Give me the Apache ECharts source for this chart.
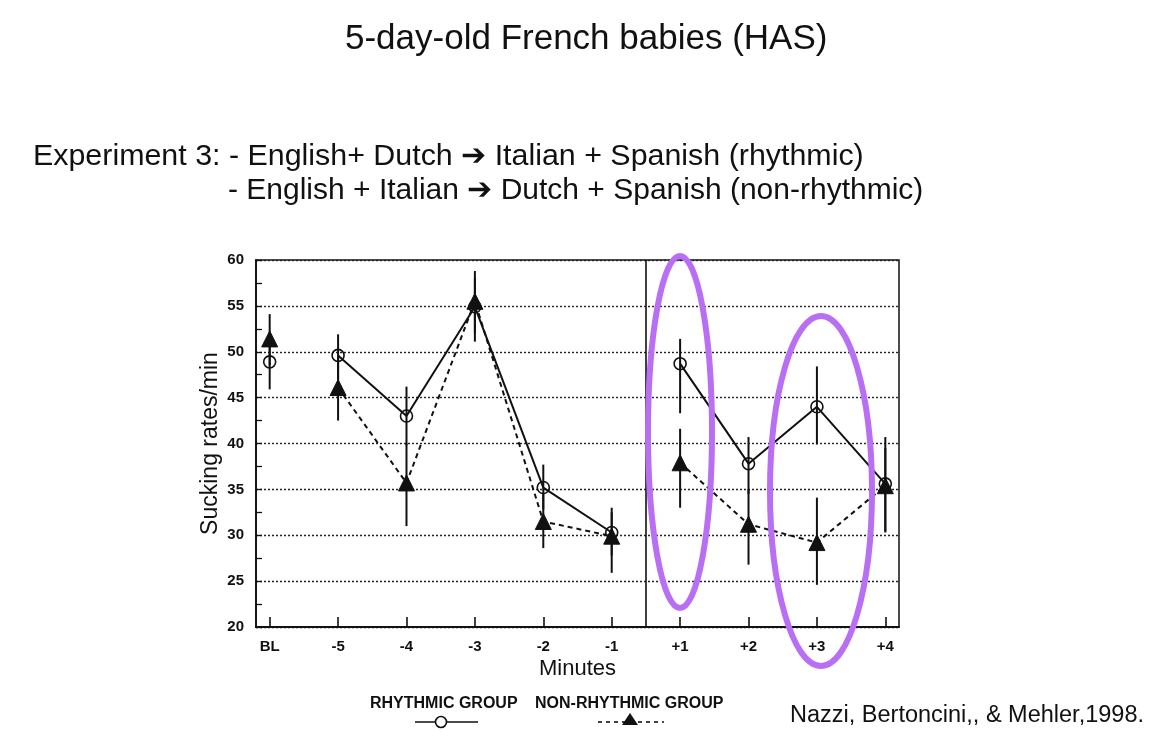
<!DOCTYPE html>
<html lang="en">
<head>
  <meta charset="UTF-8" />
  <title>5-day-old French babies (HAS)</title>
  <script src="https://cdn.jsdelivr.net/npm/echarts@6/dist/echarts.min.js"></script>
  <style>
    html, body {
      margin: 0;
      padding: 0;
      background: #fff;
    }
    #chart {
      width: 1154px;
      height: 746px;
    }
  </style>
</head>
<body>
  <div id="chart"></div>

  <script>
    // Minutes (BL = baseline, then before / after the switch)
    const minuteLabels = ['BL', '-5', '-4', '-3', '-2', '-1', '+1', '+2', '+3', '+4'];

    const rhythmicMean = [48.9, 49.6, 43.0, 54.9, 35.2, 30.3, 48.7, 37.8, 44.0, 35.6];
    const rhythmicLow = [45.9, 47.0, 39.8, 51.1, 32.8, 27.8, 43.3, 34.5, 39.9, 30.4];
    const rhythmicHigh = [52.0, 51.9, 46.2, 58.0, 37.7, 33.0, 51.4, 40.7, 48.4, 40.7];

    const nonRhythmicMean = [51.4, 46.1, 35.7, 55.5, 31.5, 29.9, 37.9, 31.2, 29.2, 35.4];
    const nonRhythmicLow = [48.5, 42.5, 31.0, 52.0, 28.6, 25.9, 33.0, 26.8, 24.6, 30.3];
    const nonRhythmicHigh = [54.1, 49.5, 40.0, 58.8, 34.5, 32.5, 41.6, 35.0, 34.1, 39.5];

    const yTicks = [20, 25, 30, 35, 40, 45, 50, 55, 60];
    const switchAt = 5.5; // between -1 and +1

    const chart = echarts.init(document.getElementById('chart'));
    const FONT = '"Liberation Sans", Arial, Helvetica, sans-serif';

    // line breaks after BL and at the switch
    function lineData(values) {
      const out = [];
      values.forEach((v, i) => {
        out.push([i, v]);
        if (i === 0 || i === 5) out.push([i + 0.5, '-']);
      });
      return out;
    }

    function barData(low, high) {
      return low.map((l, i) => [i, l, high[i]]);
    }

    function renderErrorBar(params, api) {
      const x = api.value(0);
      const p1 = api.coord([x, api.value(1)]);
      const p2 = api.coord([x, api.value(2)]);
      return {
        type: 'line',
        shape: { x1: p1[0], y1: p1[1], x2: p2[0], y2: p2[1] },
        style: { stroke: '#111', lineWidth: 2 }
      };
    }

    const option = {
      backgroundColor: '#fff',
      animation: false,
      textStyle: { fontFamily: FONT },
      grid: {
        left: 256, top: 260, width: 643, height: 367,
        show: true, borderColor: '#111', borderWidth: 1.5,
        containLabel: false
      },
      xAxis: {
        type: 'value',
        min: -0.2,
        max: 9.2,
        name: 'Minutes',
        nameLocation: 'middle',
        nameGap: 31,
        nameTextStyle: { fontSize: 22, color: '#111', fontFamily: FONT },
        axisLine: { show: true, onZero: false, lineStyle: { color: '#111', width: 1.8 } },
        axisTick: {
          show: true, inside: true, length: 10,
          customValues: minuteLabels.map((_, i) => i),
          lineStyle: { color: '#111', width: 1.6 }
        },
        axisLabel: {
          customValues: minuteLabels.map((_, i) => i),
          formatter: v => minuteLabels[Math.round(v)],
          color: '#111', fontSize: 15, fontWeight: 'bold', margin: 12, fontFamily: FONT
        },
        splitLine: { show: false }
      },
      yAxis: {
        type: 'value',
        min: 20,
        max: 60,
        interval: 5,
        name: 'Sucking rates/min',
        nameLocation: 'middle',
        nameGap: 34,
        nameMoveOverlap: false,
        nameTextStyle: { fontSize: 23, color: '#111', fontFamily: FONT },
        axisLine: { show: true, onZero: false, lineStyle: { color: '#111', width: 1.8 } },
        axisTick: { show: true, inside: true, length: 6, lineStyle: { color: '#111', width: 1.3 } },
        minorTick: { show: true, splitNumber: 2, length: 6, lineStyle: { color: '#111', width: 1.3 } },
        axisLabel: {
          color: '#111', fontSize: 15, fontWeight: 'bold', margin: 12, fontFamily: FONT,
          formatter: v => (yTicks.indexOf(v) >= 0 ? String(v) : '')
        },
        splitLine: { show: true, lineStyle: { color: '#222', type: [2, 2], width: 1.4 } }
      },
      series: [
        {
          name: 'rhythmic error',
          type: 'custom',
          renderItem: renderErrorBar,
          data: barData(rhythmicLow, rhythmicHigh),
          encode: { x: 0, y: [1, 2] },
          z: 2
        },
        {
          name: 'non-rhythmic error',
          type: 'custom',
          renderItem: renderErrorBar,
          data: barData(nonRhythmicLow, nonRhythmicHigh),
          encode: { x: 0, y: [1, 2] },
          z: 2
        },
        {
          name: 'NON-RHYTHMIC GROUP',
          type: 'line',
          data: lineData(nonRhythmicMean),
          connectNulls: false,
          symbol: 'triangle',
          symbolSize: 16,
          lineStyle: { color: '#111', width: 2, type: [5, 4] },
          itemStyle: { color: '#111', borderColor: '#111' },
          z: 3,
          markLine: {
            silent: true,
            symbol: 'none',
            label: { show: false },
            lineStyle: { color: '#111', width: 1.6, type: 'solid' },
            data: [{ xAxis: switchAt }]
          }
        },
        {
          name: 'RHYTHMIC GROUP',
          type: 'line',
          data: lineData(rhythmicMean),
          connectNulls: false,
          symbol: 'circle',
          symbolSize: 12,
          lineStyle: { color: '#111', width: 2 },
          itemStyle: { color: 'rgba(255,255,255,0)', borderColor: '#111', borderWidth: 1.6 },
          z: 4
        }
      ],
      graphic: [
        {
          type: 'text', left: 345, top: 22,
          style: { text: '5-day-old French babies (HAS)', font: '35px ' + FONT, fill: '#111' }
        },
        {
          type: 'text', left: 33, top: 142,
          style: { text: 'Experiment 3: - English+ Dutch \u2794 Italian + Spanish (rhythmic)', font: '30.4px ' + FONT, fill: '#111' }
        },
        {
          type: 'text', left: 228, top: 176,
          style: { text: '- English + Italian \u2794 Dutch + Spanish (non-rhythmic)', font: '30px ' + FONT, fill: '#111' }
        },
        // legend drawn underneath the chart as in the paper figure
        {
          type: 'text', left: 370, top: 696,
          style: { text: 'RHYTHMIC GROUP', font: 'bold 16px ' + FONT, fill: '#111' }
        },
        {
          type: 'line', shape: { x1: 415, y1: 722, x2: 478, y2: 722 },
          style: { stroke: '#111', lineWidth: 1.6 }
        },
        {
          type: 'circle', shape: { cx: 441, cy: 722, r: 5.5 },
          style: { fill: '#fff', stroke: '#111', lineWidth: 1.6 }
        },
        {
          type: 'text', left: 535, top: 696,
          style: { text: 'NON-RHYTHMIC GROUP', font: 'bold 16px ' + FONT, fill: '#111' }
        },
        {
          type: 'line', shape: { x1: 598, y1: 722, x2: 664, y2: 722 },
          style: { stroke: '#111', lineWidth: 1.6, lineDash: [4, 4] }
        },
        {
          type: 'polygon', shape: { points: [[630, 713], [638, 725], [622, 725]] },
          style: { fill: '#111' }
        },
        {
          type: 'text', left: 790, top: 704,
          style: { text: 'Nazzi, Bertoncini,, & Mehler,1998.', font: '23.5px ' + FONT, fill: '#111' }
        },
        // purple highlight ellipses
        {
          type: 'ellipse', shape: { cx: 680, cy: 432, rx: 32, ry: 176 },
          style: { fill: 'none', stroke: '#b96ff3', lineWidth: 6 }, z: 100
        },
        {
          type: 'ellipse', shape: { cx: 821, cy: 491, rx: 51, ry: 175 },
          style: { fill: 'none', stroke: '#b96ff3', lineWidth: 6 }, z: 100
        }
      ]
    };

    chart.setOption(option);
  </script>
</body>
</html>
